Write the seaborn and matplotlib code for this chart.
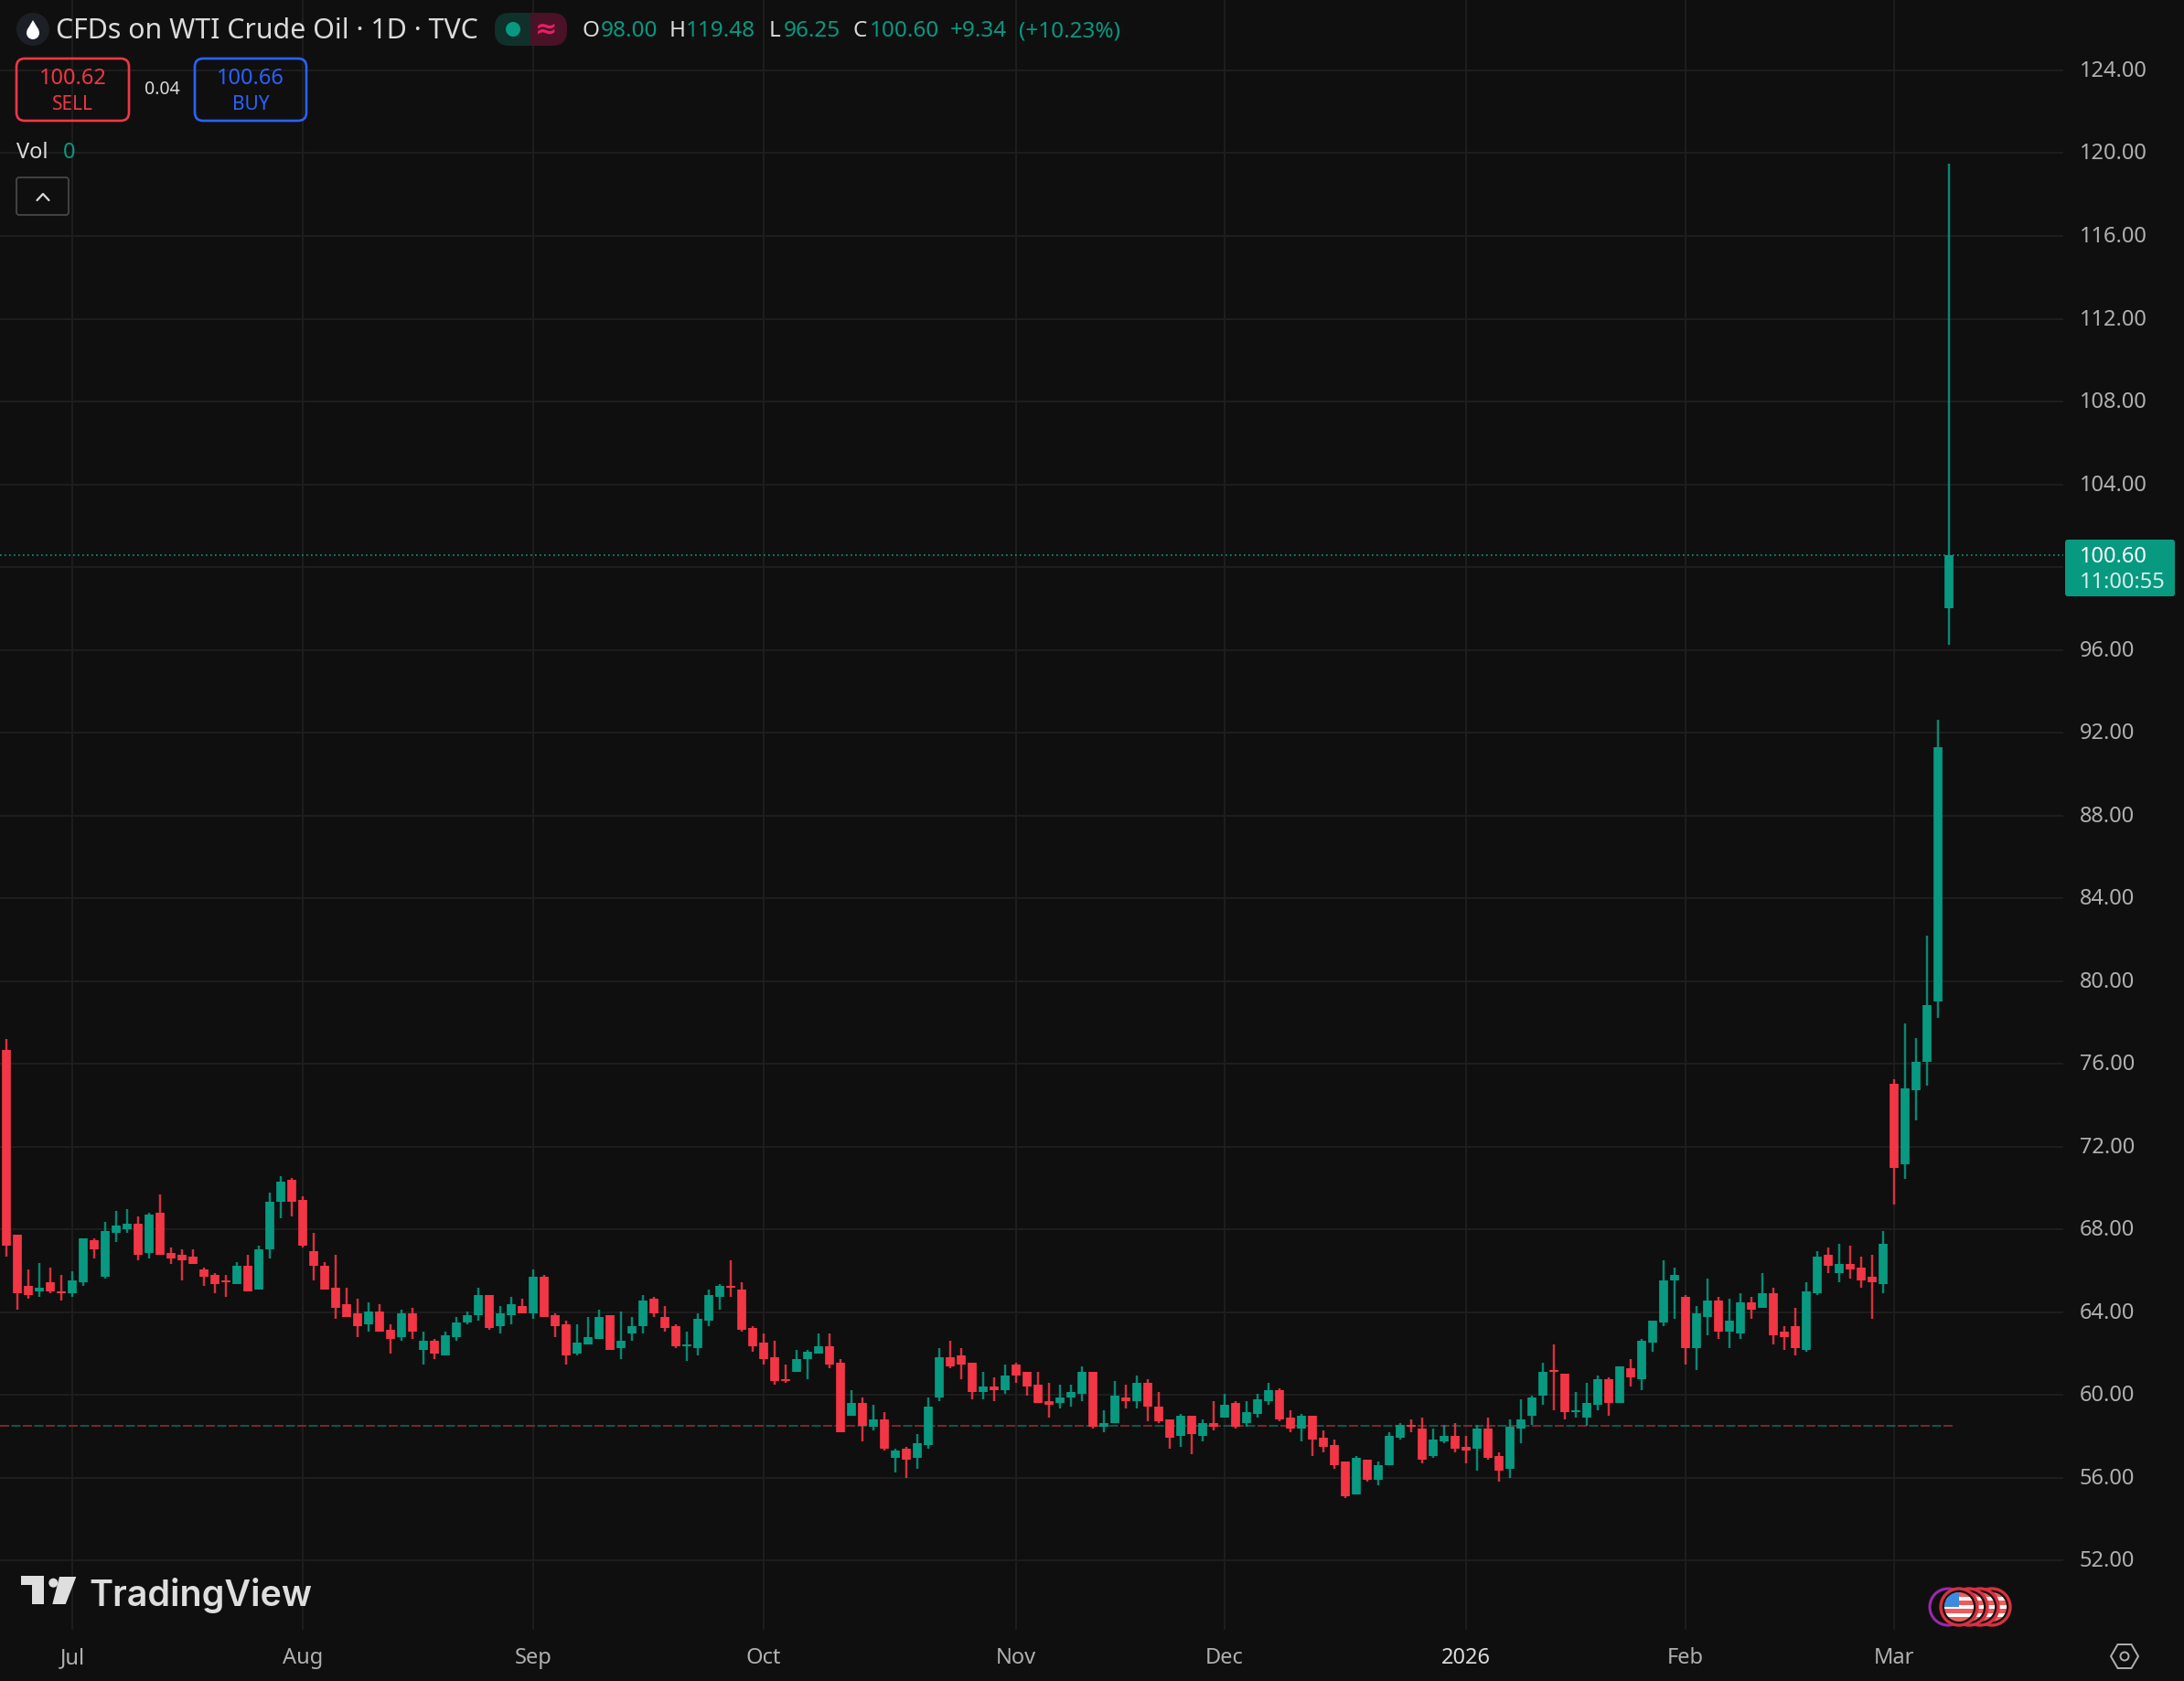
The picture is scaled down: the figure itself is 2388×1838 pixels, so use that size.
import pandas as pd
import seaborn as sns
import matplotlib.pyplot as plt
from matplotlib.patches import Circle, FancyBboxPatch, Polygon, Rectangle, RegularPolygon

# Candle data, one value per trading day
highs = [77.2, 67.74, 66.05, 66.4, 66.15, 65.8, 65.97, 67.56, 67.56, 68.36,
         68.89, 68.98, 68.62, 68.8, 69.68, 67.12, 67.03, 67.03, 66.15, 65.89,
         65.8, 66.42, 66.77, 67.21, 69.77, 70.57, 70.48, 69.6, 67.83, 66.42,
         66.77, 65.18, 64.65, 64.47, 64.38, 63.41, 64.12, 64.21, 63.06, 62.7,
         63.06, 63.76, 64.03, 65.18, 64.82, 64.29, 64.74, 64.65, 66.06, 65.8,
         63.94, 63.59, 63.41, 63.76, 64.12, 63.85, 64.03, 63.76, 64.82, 64.74,
         64.29, 63.41, 63.06, 63.94, 65.09, 65.35, 66.5, 65.44, 63.32, 62.97,
         62.62, 61.47, 62.17, 62.17, 62.97, 62.97, 61.73, 60.23, 59.88, 59.52,
         59.17, 57.4, 57.49, 58.11, 59.88, 62.26, 62.62, 62.26, 61.56, 61.11,
         60.85, 61.47, 61.56, 61.1, 61.1, 60.57, 60.49, 60.49, 61.37, 61.1,
         59.25, 60.66, 60.49, 60.93, 60.75, 60.13, 58.81, 59.07, 58.98, 58.81,
         59.69, 60.04, 59.69, 59.69, 60.04, 60.57, 60.31, 59.25, 59.07, 58.98,
         58.28, 57.84, 56.77, 57.04, 56.86, 56.77, 58.19, 58.63, 58.81, 58.9,
         58.37, 58.54, 58.63, 58.01, 58.54, 58.9, 57.22, 58.81, 59.78, 59.96,
         61.55, 62.44, 61.03, 60.14, 60.58, 60.94, 60.85, 61.38, 61.73, 62.7,
         63.59, 66.5, 66.15, 64.82, 64.29, 65.62, 64.74, 64.65, 64.91, 64.74,
         65.89, 65.18, 63.32, 64.21, 65.44, 66.95, 67.12, 67.3, 67.21, 66.68,
         66.77, 67.92, 75.27, 77.96, 77.25, 82.2, 92.63, 119.48]
body_tops = [76.67, 67.74, 65.27, 65.18, 65.44, 64.99, 65.53, 67.56, 67.48, 67.92,
             68.18, 68.27, 68.27, 68.71, 68.8, 66.86, 66.77, 66.68, 66.06, 65.8,
             65.53, 66.24, 66.24, 67.03, 69.33, 70.3, 70.39, 69.42, 66.95, 66.24,
             65.18, 64.38, 63.94, 64.03, 64.03, 63.15, 63.94, 63.94, 62.62, 62.62,
             62.88, 63.5, 63.85, 64.82, 64.82, 63.94, 64.38, 64.29, 65.71, 65.71,
             63.85, 63.41, 62.53, 62.79, 63.76, 63.85, 62.62, 63.32, 64.56, 64.65,
             63.76, 63.32, 62.44, 63.68, 64.82, 65.27, 65.27, 65.09, 63.23, 62.53,
             61.82, 60.76, 61.73, 62.09, 62.35, 62.35, 61.56, 59.61, 59.61, 58.82,
             58.82, 57.31, 57.4, 57.67, 59.43, 61.82, 61.82, 61.91, 61.56, 60.41,
             60.41, 60.94, 61.47, 61.1, 60.49, 59.69, 59.87, 60.13, 61.1, 61.1,
             58.63, 59.96, 59.87, 60.57, 60.57, 59.43, 58.81, 58.98, 58.98, 58.63,
             58.63, 59.51, 59.6, 59.16, 59.78, 60.22, 60.22, 58.9, 58.98, 58.98,
             57.92, 57.57, 56.77, 56.95, 56.86, 56.6, 58.01, 58.54, 58.54, 58.37,
             57.84, 58.01, 58.01, 57.48, 58.37, 58.37, 57.04, 58.45, 58.81, 59.87,
             61.1, 61.2, 61.03, 59.26, 59.61, 60.76, 60.76, 61.38, 61.29, 62.62,
             63.59, 65.53, 65.8, 64.74, 63.94, 64.56, 64.56, 63.59, 64.47, 64.47,
             64.91, 64.91, 63.06, 63.32, 65.0, 66.68, 66.77, 66.33, 66.33, 66.15,
             65.71, 67.3, 75.02, 74.84, 76.11, 78.83, 91.31, 100.6]
body_bottoms = [67.23, 64.93, 64.84, 65.0, 65.0, 64.93, 64.93, 65.44, 67.03, 65.71,
                67.83, 68.0, 66.77, 66.86, 66.77, 66.59, 66.5, 66.33, 65.71, 65.35,
                65.44, 65.35, 65.0, 65.09, 67.03, 69.33, 69.33, 67.21, 66.24, 65.09,
                64.21, 63.76, 63.32, 63.41, 63.06, 62.7, 62.79, 63.06, 62.17, 62.0,
                61.91, 62.79, 63.5, 63.85, 63.23, 63.32, 63.85, 63.94, 63.94, 63.76,
                63.32, 61.91, 62.0, 62.44, 62.7, 62.17, 62.26, 62.97, 63.32, 63.94,
                63.23, 62.35, 62.35, 62.26, 63.59, 64.74, 65.18, 63.15, 62.35, 61.73,
                60.67, 60.67, 61.11, 61.73, 62.0, 61.47, 58.2, 58.99, 58.52, 58.49,
                57.4, 56.96, 56.87, 56.96, 57.58, 59.88, 61.38, 61.47, 60.14, 60.14,
                60.23, 60.23, 60.94, 60.4, 59.6, 59.51, 59.6, 59.87, 60.04, 58.45,
                58.45, 58.63, 59.69, 59.69, 59.43, 58.72, 57.92, 58.01, 58.1, 58.01,
                58.45, 58.9, 58.45, 58.63, 59.07, 59.69, 58.81, 58.37, 58.37, 57.84,
                57.48, 56.6, 55.1, 55.18, 55.89, 55.89, 56.6, 57.92, 58.45, 56.86,
                57.04, 57.75, 57.39, 57.3, 57.39, 56.95, 56.33, 56.42, 58.37, 58.98,
                59.96, 61.11, 59.17, 59.17, 58.9, 59.52, 59.61, 59.61, 60.85, 60.76,
                62.53, 63.5, 65.53, 62.26, 62.26, 63.76, 63.06, 63.06, 62.97, 64.12,
                64.21, 62.88, 62.79, 62.26, 62.17, 64.91, 66.24, 65.89, 66.06, 65.53,
                65.44, 65.35, 70.98, 71.16, 74.72, 76.11, 79.03, 98.0]
lows = [66.68, 64.13, 64.65, 64.75, 64.91, 64.56, 64.74, 65.27, 66.59, 65.62,
        67.39, 67.83, 66.5, 66.59, 66.77, 66.33, 65.53, 66.33, 65.27, 64.91,
        64.74, 65.35, 65.0, 65.09, 66.59, 68.54, 68.62, 67.12, 65.53, 65.09,
        63.68, 63.76, 62.79, 63.06, 63.06, 62.0, 62.62, 62.7, 61.47, 61.73,
        61.91, 62.62, 63.41, 63.59, 63.15, 62.97, 63.41, 63.94, 63.68, 63.76,
        62.79, 61.47, 61.91, 62.44, 62.7, 62.17, 61.73, 62.62, 62.97, 63.76,
        63.06, 62.26, 61.64, 61.91, 63.32, 64.12, 64.74, 63.06, 62.09, 61.47,
        60.49, 60.58, 61.11, 60.76, 62.0, 61.29, 58.2, 58.99, 57.76, 58.29,
        57.31, 56.25, 55.99, 56.43, 57.4, 59.7, 61.29, 60.76, 59.79, 59.79,
        59.7, 60.05, 60.58, 59.96, 59.6, 58.9, 59.34, 59.43, 59.69, 58.37,
        58.19, 58.63, 59.34, 59.34, 58.72, 58.63, 57.39, 57.48, 57.13, 57.75,
        58.28, 58.9, 58.37, 58.45, 58.9, 59.51, 58.72, 58.19, 57.75, 57.04,
        57.22, 56.42, 55.01, 55.18, 55.8, 55.63, 56.6, 57.84, 58.19, 56.69,
        56.95, 57.66, 57.22, 56.69, 56.33, 56.86, 55.8, 55.98, 57.66, 58.54,
        59.51, 59.26, 58.82, 58.9, 58.52, 59.26, 58.99, 59.61, 60.41, 60.23,
        62.09, 63.32, 63.68, 61.47, 61.2, 62.88, 62.7, 62.26, 62.7, 63.68,
        64.21, 62.44, 62.17, 61.91, 62.09, 64.82, 65.89, 65.44, 65.62, 65.18,
        63.68, 64.91, 69.21, 70.45, 73.27, 74.97, 78.22, 96.25]
directions = list(
    "rrrgrrggrg" "ggrgrrrrrr" "rgrgggrrrr" "rrrgrrgrgr" "ggggrggrgr"
    "rrgggrgggr" "rrggggrrrr" "rrgggrrgrg" "rgrgggrrrg" "rgrrrrgggr"
    "ggrgrrrgrg" "rgrgggrrgr" "rrrgrgggrr" "ggrrgrrggg" "grrgggrgrg"
    "gggrggrggr" "grrrggrgrr" "rgrggggg"
)

price_ticks = [52, 56, 60, 64, 68, 72, 76, 80, 84, 88, 92, 96, 104, 108, 112, 116, 120, 124]
month_labels = ["Jul", "Aug", "Sep", "Oct", "Nov", "Dec", "2026", "Feb", "Mar"]
month_positions = [6, 27, 48, 69, 92, 111, 133, 153, 172]
last_price = 100.60
prev_close_level = 58.5

BG = "#0f0f0f"
GRID = "#1d1d1d"
GREEN = "#089981"
RED = "#f23645"
BLUE = "#2962ff"
LABEL = "#b0b0b0"
TEXT = "#dbdbdb"

W, H = 2388, 1838
CHART_R, CHART_B = 2256, 1782

sns.set_theme(style="dark", rc={"axes.facecolor": BG, "figure.facecolor": BG})
plt.rcParams["font.family"] = ["Noto Sans", "DejaVu Sans"]

df = pd.DataFrame({"high": highs, "top": body_tops, "bottom": body_bottoms,
                   "low": lows, "dir": directions})
df["day"] = range(len(df))
wicks = df.melt(id_vars=["day", "dir"], value_vars=["high", "low"], value_name="price")
bodies = df.melt(id_vars=["day", "dir"], value_vars=["top", "bottom"], value_name="price")
palette = {"g": GREEN, "r": RED}

fig = plt.figure(figsize=(W / 100, H / 100), dpi=100, facecolor=BG)
ax = fig.add_axes([0, 1 - CHART_B / H, CHART_R / W, CHART_B / H])
ax.set_facecolor(BG)

for p in price_ticks:
    ax.axhline(p, color=GRID, lw=1.5, zorder=0)
for m in month_positions:
    ax.axvline(m, color=GRID, lw=1.5, zorder=0)
ax.axhline(100, color=GRID, lw=1.5, zorder=0)

# previous close line, two colours taking turns
ax.plot([-0.6, 177.5], [prev_close_level] * 2, color="#8a2e35", lw=1.2,
        linestyle=(0, (6, 9)), zorder=1)
ax.plot([-0.6, 177.5], [prev_close_level] * 2, color="#1a6057", lw=1.2,
        linestyle=(7.5, (6, 9)), zorder=1)
ax.axhline(last_price, color=GREEN, lw=1.2, linestyle=(0, (1, 2)), zorder=1)

sns.lineplot(data=wicks, x="day", y="price", units="day", estimator=None, hue="dir",
             palette=palette, lw=1.75, legend=False, sort=False, ax=ax, zorder=2,
             solid_capstyle="butt", alpha=0.88)
sns.lineplot(data=bodies, x="day", y="price", units="day", estimator=None, hue="dir",
             palette=palette, lw=7.0, legend=False, sort=False, ax=ax, zorder=3,
             solid_capstyle="butt")

ax.set_xlim(-0.583, 187.42)
ax.set_ylim(48.66, 127.4)
ax.set_xlabel("")
ax.set_ylabel("")
ax.set_xticks([])
ax.set_yticks([])
sns.despine(ax=ax, left=True, bottom=True)

# overlay in pixel coordinates for the TradingView furniture
ov = fig.add_axes([0, 0, 1, 1], facecolor="none")
ov.set_xlim(0, W)
ov.set_ylim(H, 0)
ov.axis("off")


def label(x, y, s, color=TEXT, size=17.5, ha="left", **kw):
    ov.text(x, y + 3, s, color=color, fontsize=size, ha=ha, va="center", **kw)


# price and time axis labels, placed off the same scale as the chart
to_px = lambda p: (ax.transData.transform((0, p))[1])
for p in price_ticks:
    label(2274, H - to_px(p) - 2, f"{p:.2f}", color=LABEL, size=17)
for m, name in zip(month_positions, month_labels):
    x_px = ax.transData.transform((m, 0))[0]
    bold = name == "2026"
    label(x_px, 1810, name, color=TEXT if bold else LABEL, size=17, ha="center",
          fontweight="bold" if bold else "normal")

# last price tag
ov.add_patch(FancyBboxPatch((2260, 592), 116, 58, boxstyle="round,pad=2,rounding_size=3",
                            fc=GREEN, ec="none"))
label(2274, 606, "100.60", color="white", size=17)
label(2274, 634, "11:00:55", color="#d8eeea", size=17)

# header
ov.add_patch(Circle((36, 32), 18, fc="#1c2026", ec="none"))
ov.add_patch(Circle((36, 36), 7, fc="white", ec="none"))
ov.add_patch(Polygon([(36, 22), (29.5, 33), (42.5, 33)], fc="white", ec="none"))
label(61, 31, "CFDs on WTI Crude Oil · 1D · TVC", size=21.8)

ov.add_patch(FancyBboxPatch((545, 18), 35, 28, boxstyle="round,pad=4,rounding_size=16",
                            fc="#10302b", ec="none"))
ov.add_patch(FancyBboxPatch((580, 18), 36, 28, boxstyle="round,pad=4,rounding_size=16",
                            fc="#4a1226", ec="none"))
ov.add_patch(Rectangle((570, 14), 10, 36, fc="#10302b", ec="none"))
ov.add_patch(Rectangle((580, 14), 10, 36, fc="#4a1226", ec="none"))
ov.add_patch(Circle((561, 32), 8, fc=GREEN, ec="none"))
label(597, 30, "≈", color="#e91e63", size=21, ha="center", fontweight="bold")

for x, s, c in [(636, "O", TEXT), (657, "98.00", GREEN), (732, "H", TEXT), (750, "119.48", GREEN),
                (841, "L", TEXT), (857, "96.25", GREEN), (932, "C", TEXT), (951, "100.60", GREEN),
                (1039, "+9.34", GREEN), (1114, "(+10.23%)", GREEN)]:
    label(x, 31, s, color=c)

# sell / buy boxes
for x0, x1, price, word, c in [(18, 141, "100.62", "SELL", RED), (213, 335, "100.66", "BUY", BLUE)]:
    ov.add_patch(FancyBboxPatch((x0 + 8, 72), x1 - x0 - 16, 52, boxstyle="round,pad=8,rounding_size=9",
                                fc="none", ec=c, lw=1.9))
    label((x0 + x1) / 2, 83, price, color=c, size=17, ha="center", fontweight="medium")
    label((x0 + x1) / 2, 111, word, color=c, size=15, ha="center")
label(177, 95, "0.04", size=14, ha="center")

label(18, 164, "Vol", size=17)
label(76, 164, "0", color=GREEN, size=17, ha="center")
ov.add_patch(FancyBboxPatch((20, 196), 53, 37, boxstyle="round,pad=2,rounding_size=3",
                            fc="none", ec="#434343", lw=1.4))
ov.plot([40.5, 47, 53.5], [219, 212, 219], color=TEXT, lw=1.6)

# watermark
logo = "#dedede"
ov.add_patch(Polygon([(23.3, 1723.3), (48.3, 1723.3), (48.3, 1754), (35, 1754), (35, 1733.3), (23.3, 1733.3)],
                     fc=logo, ec="none"))
ov.add_patch(Circle((58.3, 1730.7), 5, fc=logo, ec="none"))
ov.add_patch(Polygon([(65, 1724), (83.3, 1724), (71.7, 1754), (57.3, 1754)], fc=logo, ec="none"))
ov.text(97, 1744, "TradingView", color=logo, fontsize=28.4, fontweight="semibold", family="Inter",
        ha="left", va="center")


# stacked event flags, back to front
def flag(cx, cy=1757):
    ring = Circle((cx, cy), 20, fc="#141414", ec="#d9303f", lw=2.4)
    ov.add_patch(ring)
    disc = Circle((cx, cy), 16, transform=ov.transData)
    for i in range(7):
        s = Rectangle((cx - 17, cy - 16 + i * 32 / 7), 34, 32 / 7, fc="#f15a5a" if i % 2 == 0 else "white",
                      ec="none")
        ov.add_patch(s)
        s.set_clip_path(disc)
    canton = Rectangle((cx - 17, cy - 16), 17, 16, fc="#3d8be0", ec="none")
    ov.add_patch(canton)
    canton.set_clip_path(disc)


ov.add_patch(Circle((2130, 1757), 20, fc="none", ec="#9c27b0", lw=2.2))
for cx in [2178, 2165, 2153, 2142]:
    flag(cx)

# settings hexagon
ov.add_patch(RegularPolygon((2323, 1811), 6, radius=15, orientation=0.5236, fc="none", ec=LABEL, lw=1.4))
ov.add_patch(Circle((2323, 1811), 4.5, fc="none", ec=LABEL, lw=1.4))

fig.savefig("out.png", dpi=100, facecolor=BG)
